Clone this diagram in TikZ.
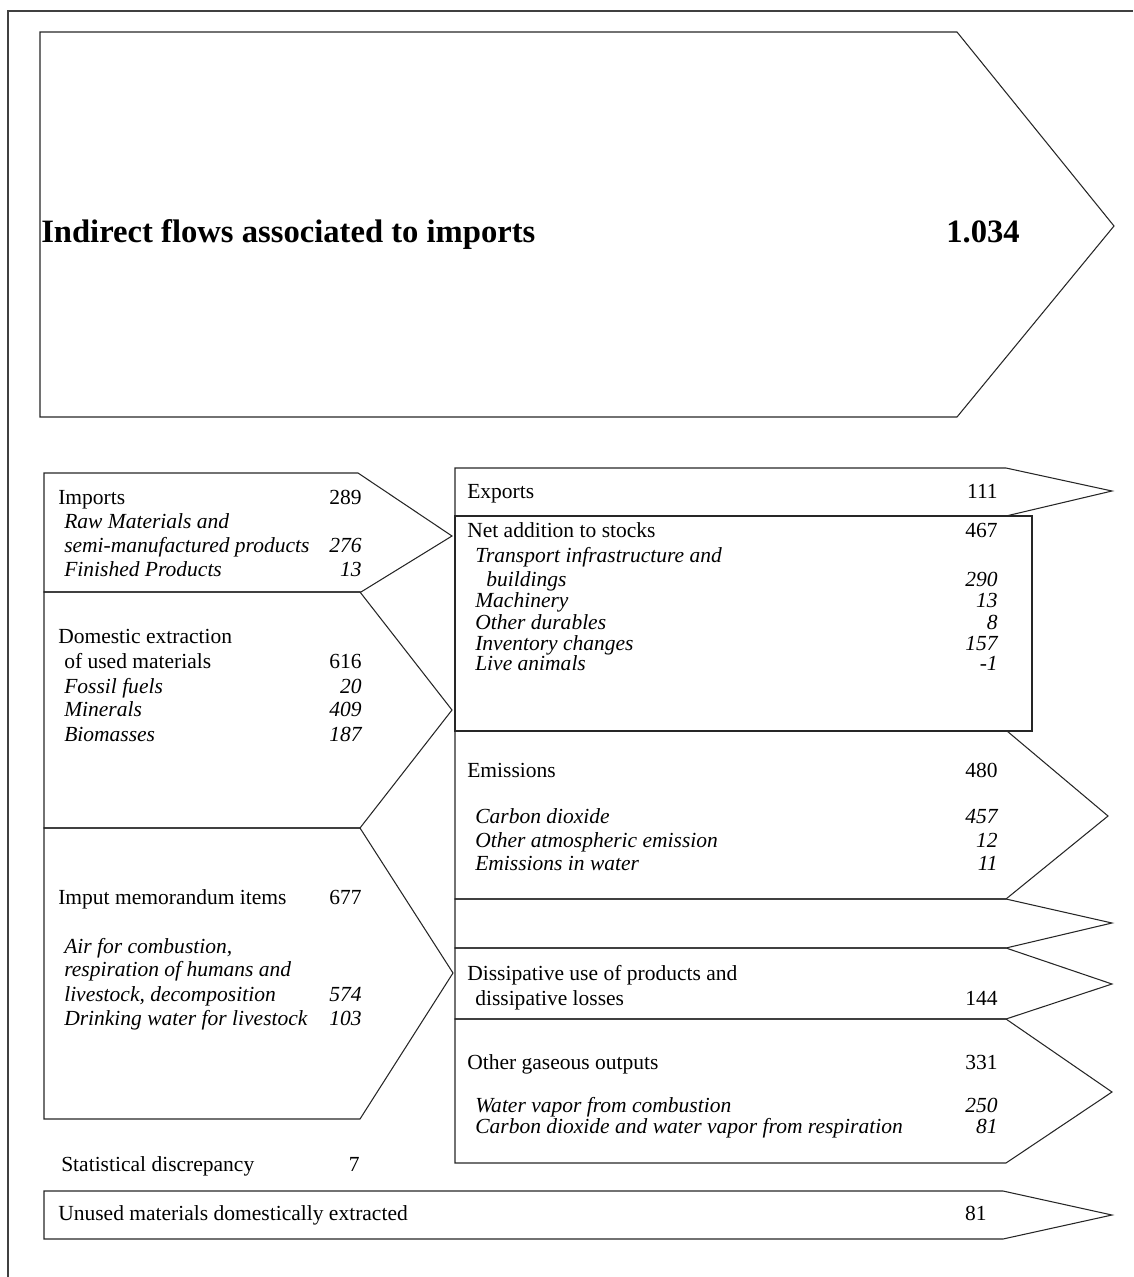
\documentclass[tikz,border=0pt]{standalone}
\usepackage{fontspec}
\setmainfont{Liberation Serif}

% one line of a flow box: name, x of text, x of number, baseline, text, number
\newcommand{\flowrow}[6]{%
  \node[lbl] (#1) at (#2,#4) {#5};
  \node[num] (#1v) at (#3,#4) {#6};}

\begin{document}
\begin{tikzpicture}[x=0.025cm, y=-0.025cm,
    flow/.style={draw=black!85, line width=0.75pt, line join=miter},
    frame/.style={draw=black!75, line width=1.3pt},
    lbl/.style={anchor=base west, inner sep=0pt, font=\fontsize{15.3}{16}\selectfont},
    num/.style={anchor=base east, inner sep=0pt, font=\fontsize{15.3}{16}\selectfont},
    title/.style={inner sep=0pt, font=\fontsize{23.2}{24}\selectfont\bfseries}]

	\useasboundingbox (0,0) rectangle (1133,1277);
	\draw[frame] (8,1277) -- (8,11) -- (1133,11);

	% indirect flows
	\draw[flow] (40,32) -- (957,32) -- (1114,226) -- (957,417) -- (40,417) -- cycle;
	\node[title, anchor=base west] (ind) at (41,242) {Indirect flows associated to imports};
	\node[title, anchor=base east] (indv) at (1020,242) {1.034};

	% inputs
	\draw[flow] (44,473) -- (358,473) -- (452,536) -- (361,592) -- (44,592) -- cycle;
	\draw[flow] (44,592) -- (360,592) -- (452,710) -- (360,828) -- (44,828) -- cycle;
	\draw[flow] (44,828) -- (360,828) -- (453,973) -- (360,1119) -- (44,1119) -- cycle;

	\flowrow{imp}{58}{362}{504}{Imports}{289}
	\node[lbl] (raw) at (64,528) {\itshape Raw Materials and};
	\flowrow{semi}{64}{362}{552}{\itshape semi-manufactured products}{\itshape 276}
	\flowrow{fin}{64}{362}{576}{\itshape Finished Products}{\itshape 13}

	\node[lbl] (dom) at (58,643) {Domestic extraction};
	\flowrow{used}{64}{362}{668}{of used materials}{616}
	\flowrow{foss}{64}{362}{693}{\itshape Fossil fuels}{\itshape 20}
	\flowrow{mins}{64}{362}{716}{\itshape Minerals}{\itshape 409}
	\flowrow{bio}{64}{362}{741}{\itshape Biomasses}{\itshape 187}

	\flowrow{memo}{58}{362}{904}{Imput memorandum items}{677}
	\node[lbl] (air) at (64,953) {\itshape Air for combustion,};
	\node[lbl] (breath) at (64,976) {\itshape respiration of humans and};
	\flowrow{stock}{64}{362}{1001}{\itshape livestock, decomposition}{\itshape 574}
	\flowrow{drink}{64}{362}{1025}{\itshape Drinking water for livestock}{\itshape 103}

	\flowrow{stat}{61}{360}{1171}{Statistical discrepancy}{7}

	% outputs
	\draw[flow] (455,468) -- (1006,468) -- (1112,491) -- (1006,516) -- (455,516) -- cycle;
	\draw[flow] (455,516) rectangle (1032,731);
	\draw[flow] (455,731) -- (1007,731) -- (1108,816) -- (1006,899) -- (455,899) -- cycle;
	\draw[flow] (455,899) -- (1006,899) -- (1112,923) -- (1006,948) -- (455,948) -- cycle;
	\draw[flow] (455,948) -- (1006,948) -- (1112,984) -- (1006,1019) -- (455,1019) -- cycle;
	\draw[flow] (455,1019) -- (1006,1019) -- (1112,1092) -- (1006,1163) -- (455,1163) -- cycle;
	\draw[flow] (44,1191) -- (1003,1191) -- (1112,1215) -- (1003,1239) -- (44,1239) -- cycle;

	\flowrow{exp}{467}{998}{498}{Exports}{111}

	\flowrow{net}{467}{998}{537}{Net addition to stocks}{467}
	\node[lbl] (infra) at (475,562) {\itshape Transport infrastructure and};
	\flowrow{build}{486}{998}{586}{\itshape buildings}{\itshape 290}
	\flowrow{mach}{475}{998}{607}{\itshape Machinery}{\itshape 13}
	\flowrow{dur}{475}{998}{629}{\itshape Other durables}{\itshape 8}
	\flowrow{inv}{475}{998}{650}{\itshape Inventory changes}{\itshape 157}
	\flowrow{ani}{475}{998}{670}{\itshape Live animals}{\itshape -1}

	\flowrow{emis}{467}{998}{777}{Emissions}{480}
	\flowrow{co}{475}{998}{823}{\itshape Carbon dioxide}{\itshape 457}
	\flowrow{atm}{475}{998}{847}{\itshape Other atmospheric emission}{\itshape 12}
	\flowrow{wat}{475}{998}{870}{\itshape Emissions in water}{\itshape 11}

	\node[lbl] (diss) at (467,980) {Dissipative use of products and};
	\flowrow{loss}{475}{998}{1005}{dissipative losses}{144}

	\flowrow{gas}{467}{998}{1069}{Other gaseous outputs}{331}
	\flowrow{vap}{475}{998}{1112}{\itshape Water vapor from combustion}{\itshape 250}
	\flowrow{resp}{475}{998}{1133}{\itshape Carbon dioxide and water vapor from respiration}{\itshape 81}

	\flowrow{unused}{58}{987}{1220}{Unused materials domestically extracted}{81}
\end{tikzpicture}
\end{document}
